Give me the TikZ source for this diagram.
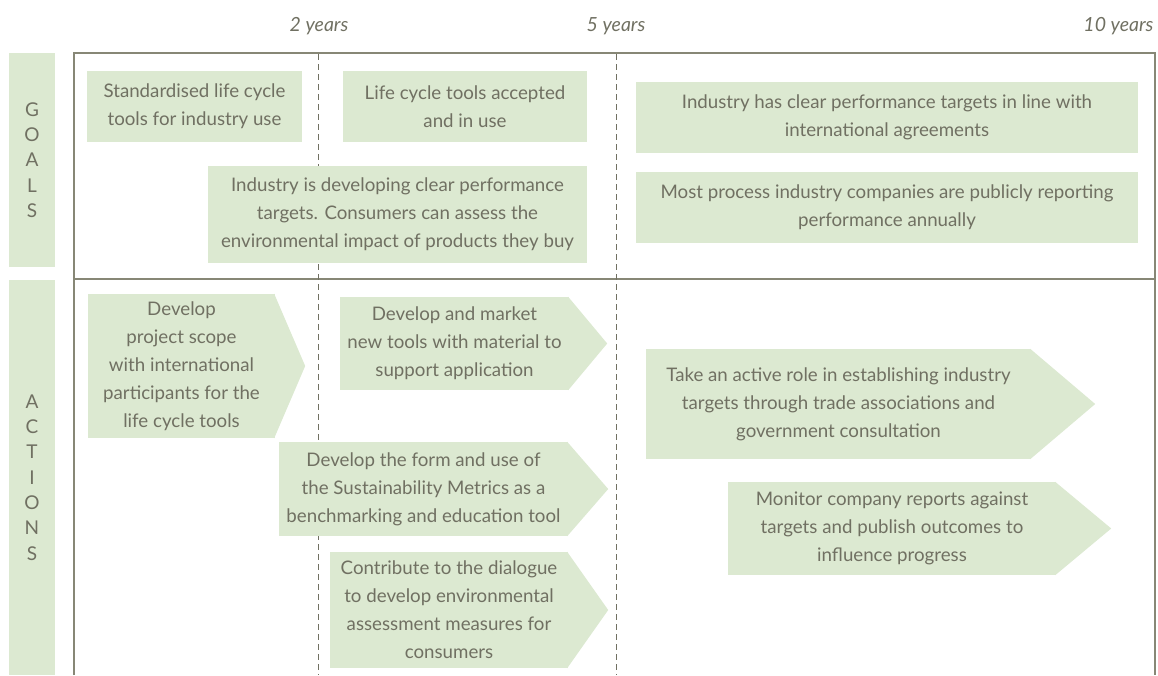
\documentclass[tikz,border=0pt]{standalone}
\usepackage{fontspec}
\setmainfont{Lato}
\usetikzlibrary{positioning}

\definecolor{leaf}{RGB}{220,233,209}
\definecolor{ink}{RGB}{112,112,98}
\definecolor{rule}{RGB}{135,135,118}

\begin{document}
\begin{tikzpicture}[x=1pt, y=-1pt,
    every node/.style={text=ink, font=\fontsize{18.7}{28}\selectfont},
    goal/.style={fill=leaf, inner sep=0pt, align=center},
    act/.style={fill=leaf, inner sep=0pt, align=center},
    side/.style={fill=leaf, inner sep=0pt, minimum width=46pt, align=center, font=\fontsize{19}{25.3}\selectfont},
    year/.style={font=\fontsize{19.5}{22}\selectfont\itshape},
    frame/.style={draw=rule, line width=1.6pt},
    yearline/.style={draw=ink, line width=0.9pt, dash pattern=on 6pt off 4pt}]
    \useasboundingbox (0,0) rectangle (1158,675);

    % time scale
    \node[year] (two) at (319,26) {2 years};
    \node[year] (five) at (616,26) {5 years};
    \node[year, anchor=east] (ten) at (1157,26) {10 years};

    % frame and time lines
    \draw[frame] (74,675) -- (74,53) -- (1155,53) -- (1155,675);
    \draw[frame] (74,279) -- (1155,279);
    \draw[yearline] (318,54) -- (318,675);
    \draw[yearline] (616,54) -- (616,675);

    % side bars
    \node[side, minimum height=214pt] (goals) at (32,160) {G\\O\\A\\L\\S};
    \node[side, minimum height=395pt] (actions) at (32,477.5) {A\\C\\T\\I\\O\\N\\S};

    % goals
    \node[goal, minimum width=215pt, minimum height=71pt] (g1) at (194.5,106.5)
        {Standardised life cycle\\tools for industry use};
    \node[goal, minimum width=244pt, minimum height=71pt] (g2) at (465,106.5)
        {Life cycle tools accepted\\and in use};
    \node[goal, minimum width=379pt, minimum height=97pt] (g3) at (397.5,214.5)
        {Industry is developing clear performance\\targets. Consumers can assess the\\environmental impact of products they buy};
    \node[goal, minimum width=502pt, minimum height=71pt] (g4) at (887,117.5)
        {Industry has clear performance targets in line with\\international agreements};
    \node[goal, minimum width=502pt, minimum height=71pt] (g5) at (887,207.5)
        {Most process industry companies are publicly reporting\\performance annually};

    % actions
    \node[act, minimum width=187pt, minimum height=144pt] (a1) at (181.5,366)
        {Develop\\project scope\\with international\\participants for the\\life cycle tools};
    \node[act, minimum width=229pt, minimum height=93pt] (a2) at (454.5,343.5)
        {Develop and market\\new tools with material to\\support application};
    \node[act, minimum width=289pt, minimum height=94pt] (a3) at (423.5,489)
        {Develop the form and use of\\the Sustainability Metrics as a\\benchmarking and education tool};
    \node[act, minimum width=238pt, minimum height=116pt] (a4) at (449,610)
        {Contribute to the dialogue\\to develop environmental\\assessment measures for\\consumers};
    \node[act, minimum width=385pt, minimum height=110pt] (a5) at (838.5,404)
        {Take an active role in establishing industry\\targets through trade associations and\\government consultation};
    \node[act, minimum width=328pt, minimum height=93pt] (a6) at (892,528.5)
        {Monitor company reports against\\targets and publish outcomes to\\influence progress};

    % arrow tips
    \fill[leaf] ([xshift=-1pt]a1.north east) -- ([xshift=30pt]a1.east) -- ([xshift=-1pt]a1.south east) -- cycle;
    \fill[leaf] ([xshift=-1pt]a2.north east) -- ([xshift=38pt]a2.east) -- ([xshift=-1pt]a2.south east) -- cycle;
    \fill[leaf] ([xshift=-1pt]a3.north east) -- ([xshift=40pt]a3.east) -- ([xshift=-1pt]a3.south east) -- cycle;
    \fill[leaf] ([xshift=-1pt]a4.north east) -- ([xshift=40pt]a4.east) -- ([xshift=-1pt]a4.south east) -- cycle;
    \fill[leaf] ([xshift=-1pt]a5.north east) -- ([xshift=64pt]a5.east) -- ([xshift=-1pt]a5.south east) -- cycle;
    \fill[leaf] ([xshift=-1pt]a6.north east) -- ([xshift=55pt]a6.east) -- ([xshift=-1pt]a6.south east) -- cycle;
\end{tikzpicture}
\end{document}
